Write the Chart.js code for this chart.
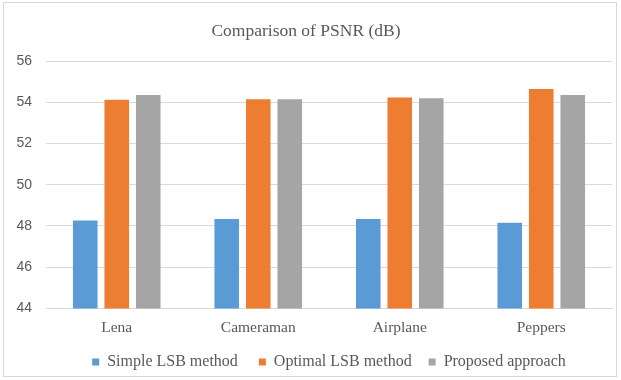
<!DOCTYPE html>
<html>
<head>
<meta charset="utf-8">
<script src="https://cdn.jsdelivr.net/npm/chart.js@4"></script>
<style>
  html, body { margin: 0; padding: 0; background: #fff; }
  #wrap { position: relative; width: 621px; height: 380px; }
  #frame { position: absolute; left: 3px; top: 2px; width: 614px; height: 375px; border: 1px solid #d9d9d9; box-sizing: border-box; }
  canvas { position: absolute; left: 0; top: 0; }
</style>
</head>
<body>
<div id="wrap">
  <div id="frame"></div>
  <canvas id="psnrChart" width="621" height="380"></canvas>
</div>
<script>
// images tested
const images = ['Lena', 'Cameraman', 'Airplane', 'Peppers'];

// PSNR values (dB)
const simpleLsb = [48.26, 48.34, 48.34, 48.15];
const optimalLsb = [54.12, 54.15, 54.23, 54.64];
const proposed = [54.35, 54.15, 54.19, 54.35];

const yTicks = [44, 46, 48, 50, 52, 54, 56];

// extra spacing after each legend entry (legend items sit further apart than chart.js default)
const legendGap = ['   ', '  ', ''];

const ctx = document.getElementById('psnrChart').getContext('2d');

const chartConfig = {
  type: 'bar',
  data: {
    labels: images,
    datasets: [
      { label: 'Simple LSB method', data: simpleLsb, backgroundColor: '#5b9bd5' },
      { label: 'Optimal LSB method', data: optimalLsb, backgroundColor: '#ed7d31' },
      { label: 'Proposed approach', data: proposed, backgroundColor: '#a5a5a5' }
    ]
  },
  options: {
    responsive: false,
    animation: false,
    devicePixelRatio: 1,
    layout: { padding: { left: 0, right: 9, top: 0, bottom: 0 } },
    datasets: {
      bar: { categoryPercentage: 0.668, barPercentage: 0.78 }
    },
    plugins: {
      title: {
        display: true,
        text: 'Comparison of PSNR (dB)',
        color: '#595959',
        font: { family: '"Liberation Serif", serif', size: 17.5, weight: 'normal' },
        padding: { top: 21, bottom: 19 }
      },
      legend: {
        position: 'bottom',
        fullSize: false,
        labels: {
          color: '#595959',
          font: { family: '"Liberation Serif", serif', size: 16 },
          boxWidth: 7,
          boxHeight: 7,
          padding: 9,
          generateLabels: (chart) => {
            const items = Chart.defaults.plugins.legend.labels.generateLabels(chart);
            items.forEach((it, i) => { it.text = it.text + legendGap[i]; });
            return items;
          }
        }
      },
      tooltip: { enabled: false }
    },
    scales: {
      x: {
        afterFit: (scale) => { scale.height += 6; },
        grid: { display: false },
        border: { color: '#d9d9d9', width: 1 },
        ticks: {
          color: '#595959',
          font: { family: '"Liberation Serif", serif', size: 15.5 },
          padding: 2
        }
      },
      y: {
        min: 44,
        max: 56,
        afterBuildTicks: (scale) => { scale.ticks = yTicks.map(v => ({ value: v })); },
        afterFit: (scale) => { scale.width = 46; },
        grid: { color: '#d9d9d9', lineWidth: 1, drawTicks: false },
        border: { display: false },
        ticks: {
          color: '#595959',
          font: { family: '"Liberation Sans", sans-serif', size: 14 },
          padding: 14
        }
      }
    }
  }
};

new Chart(ctx, chartConfig);
</script>
</body>
</html>
